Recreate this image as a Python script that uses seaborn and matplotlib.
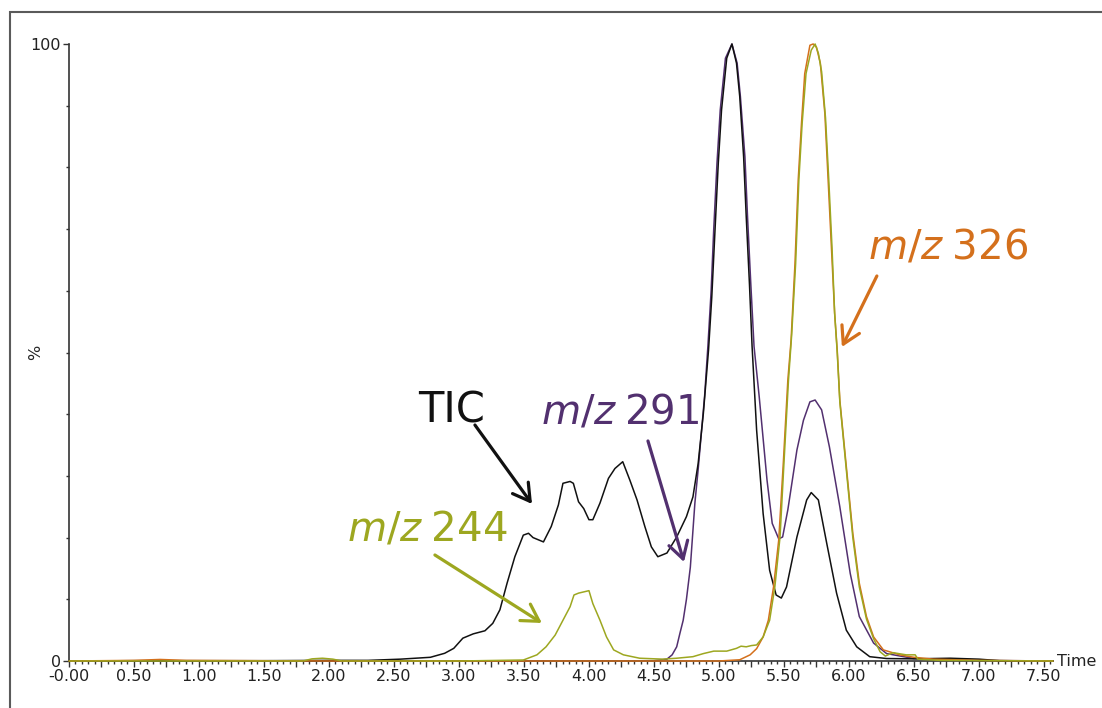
import matplotlib
matplotlib.use("Agg")
import matplotlib.pyplot as plt
from matplotlib.patches import Rectangle
from matplotlib.ticker import MultipleLocator, FuncFormatter
import pandas as pd
import seaborn as sns

# TIC (black)
tic_time = [0.0, 0.5, 1.0, 1.5, 2.0, 2.3, 2.55, 2.78, 2.89, 2.96, 3.03, 3.11, 3.20,
            3.26, 3.315, 3.37, 3.43, 3.495, 3.535, 3.57, 3.65, 3.71, 3.765, 3.80,
            3.855, 3.88, 3.92, 3.96, 4.00, 4.03, 4.085, 4.15, 4.20, 4.26, 4.315,
            4.37, 4.43, 4.48, 4.53, 4.60, 4.675, 4.75, 4.80, 4.84, 4.88, 4.92,
            4.945, 4.97, 4.995, 5.02, 5.06, 5.10, 5.135, 5.16, 5.19, 5.21, 5.235,
            5.255, 5.29, 5.34, 5.39, 5.44, 5.48, 5.52, 5.60, 5.675, 5.71, 5.765,
            5.83, 5.905, 5.98, 6.06, 6.16, 6.29, 6.50, 6.78, 7.00, 7.16, 7.57]
tic_pct = [0.0, 0.05, 0.05, 0.05, 0.1, 0.1, 0.3, 0.6, 1.25, 2.05, 3.7, 4.4, 4.9,
           6.1, 8.3, 12.6, 16.9, 20.4, 20.7, 20.0, 19.3, 21.8, 25.3, 28.8,
           29.1, 28.8, 25.8, 24.7, 22.9, 22.9, 25.6, 29.6, 31.2, 32.3, 29.3,
           26.1, 21.8, 18.5, 16.9, 17.5, 20.1, 23.4, 26.6, 32.0, 40.1, 50.4,
           59.0, 69.9, 80.7, 89.3, 97.7, 100.0, 96.9, 91.5, 81.7, 72.0, 61.0,
           51.0, 37.4, 23.9, 14.7, 10.7, 10.2, 12.0, 20.1, 26.1, 27.3, 26.1,
           19.0, 11.0, 5.0, 2.3, 0.7, 0.4, 0.35, 0.45, 0.3, 0.05, 0.0]

# m/z 291 (purple)
mz291_time = [0.0, 1.0, 2.0, 3.0, 4.0, 4.5, 4.60, 4.64, 4.675, 4.70, 4.725, 4.75,
              4.78, 4.815, 4.84, 4.865, 4.89, 4.915, 4.94, 4.96, 4.985, 5.01,
              5.05, 5.10, 5.14, 5.165, 5.20, 5.22, 5.245, 5.27, 5.31, 5.37, 5.41,
              5.46, 5.49, 5.53, 5.60, 5.65, 5.70, 5.74, 5.79, 5.85, 5.93, 6.01,
              6.08, 6.19, 6.29, 6.50, 7.00, 7.57]
mz291_pct = [0.0, 0.0, 0.0, 0.0, 0.0, 0.05, 0.3, 1.0, 2.3, 4.5, 6.6, 10.0,
             15.2, 25.6, 31.0, 37.0, 43.0, 51.0, 60.0, 70.0, 80.7, 89.3,
             97.7, 100.0, 96.9, 91.5, 81.7, 72.0, 61.2, 51.0, 42.8, 29.3, 22.3,
             19.8, 20.1, 24.5, 34.2, 39.0, 42.0, 42.3, 40.7, 34.7, 25.0, 14.2,
             7.2, 2.9, 1.2, 0.4, 0.1, 0.0]

# m/z 326 (orange)
mz326_time = [0.0, 0.5, 0.7, 0.9, 2.0, 4.0, 5.0, 5.16, 5.24, 5.29, 5.34, 5.38,
              5.42, 5.46, 5.495, 5.53, 5.555, 5.585, 5.61, 5.635, 5.66, 5.70,
              5.725, 5.75, 5.78, 5.815, 5.84, 5.865, 5.89, 5.91, 5.93, 5.98,
              6.03, 6.08, 6.135, 6.19, 6.265, 6.39, 6.50, 6.65, 7.00, 7.57]
mz326_pct = [0.0, 0.1, 0.25, 0.1, 0.0, 0.0, 0.0, 0.2, 1.0, 2.0, 3.9, 6.6,
             12.0, 19.6, 32.0, 45.5, 52.0, 64.4, 78.0, 87.1, 95.2, 99.8,
             100.0, 99.5, 96.9, 88.7, 78.0, 67.2, 56.4, 50.4, 42.3, 31.5,
             20.7, 12.6, 7.2, 3.9, 1.8, 1.0, 0.6, 0.3, 0.1, 0.0]

# m/z 244 (olive green)
mz244_time = [0.0, 1.8, 1.87, 1.95, 2.03, 2.1, 3.0, 3.495, 3.60, 3.67, 3.74, 3.80,
              3.855, 3.885, 3.92, 3.96, 4.00, 4.03, 4.085, 4.135, 4.19, 4.265,
              4.39, 4.57, 4.675, 4.80, 4.88, 4.96, 5.06, 5.135, 5.17, 5.21, 5.25,
              5.29, 5.34, 5.39, 5.43, 5.47, 5.50, 5.535, 5.56, 5.59, 5.615, 5.64,
              5.67, 5.71, 5.74, 5.765, 5.79, 5.82, 5.845, 5.87, 5.89, 5.91, 5.93,
              5.98, 6.03, 6.08, 6.135, 6.19, 6.24, 6.28, 6.34, 6.44, 6.51, 6.53,
              6.70, 7.57]
mz244_pct = [0.0, 0.0, 0.35, 0.45, 0.3, 0.0, 0.0, 0.16, 1.0, 2.3, 4.2, 6.6,
             8.8, 10.7, 11.0, 11.2, 11.4, 9.3, 6.6, 3.9, 1.8, 1.0,
             0.45, 0.3, 0.45, 0.7, 1.2, 1.6, 1.6, 2.05, 2.4, 2.3, 2.5,
             2.6, 3.9, 6.6, 12.0, 20.1, 32.0, 45.5, 53.0, 64.4, 78.0, 87.1,
             95.2, 99.0, 100.0, 98.5, 95.5, 88.0, 78.0, 67.0, 56.4, 50.0, 42.0,
             31.0, 20.0, 12.0, 6.8, 3.6, 1.5, 0.8, 1.35, 1.0, 1.0, 0.3,
             0.1, 0.0]

BLACK = "#111111"
PURPLE = "#52306f"
ORANGE = "#d4701c"
GREEN = "#9da720"

sns.set_style("ticks")
plt.rcParams["font.family"] = ["DejaVu Sans"]
plt.rcParams["mathtext.fontset"] = "dejavusans"

fig = plt.figure(figsize=(11.02, 7.08), dpi=100)
ax = fig.add_axes([69 / 1102, 1 - 661 / 708, 984 / 1102, 617 / 708])

traces = [
    (mz291_time, mz291_pct, PURPLE, 2),
    (tic_time, tic_pct, BLACK, 3),
    (mz326_time, mz326_pct, ORANGE, 4),
    (mz244_time, mz244_pct, GREEN, 5),
]
for t, v, color, z in traces:
    df = pd.DataFrame({"time": t, "pct": v})
    sns.lineplot(data=df, x="time", y="pct", color=color, lw=1.1, ax=ax,
                 estimator=None, sort=False, clip_on=False, zorder=z)

ax.set_xlim(0, 7.57)
ax.set_ylim(0, 100)
ax.set_xlabel("")
ax.set_ylabel("%", fontsize=11.5)
ax.yaxis.set_label_coords(-0.026, 0.5)

for side in ("top", "right"):
    ax.spines[side].set_visible(False)
for side in ("left", "bottom"):
    ax.spines[side].set_color("#333333")
    ax.spines[side].set_linewidth(1.2)


def xfmt(val, pos):
    if abs(val / 0.5 - round(val / 0.5)) > 1e-6:
        return ""
    if abs(val) < 1e-9:
        return "-0.00"
    return f"{val:.2f}"


ax.xaxis.set_major_locator(MultipleLocator(0.25))
ax.xaxis.set_major_formatter(FuncFormatter(xfmt))
ax.xaxis.set_minor_locator(MultipleLocator(0.05))
ax.set_yticks([0, 100])
ax.set_yticklabels(["0", "100"])
ax.yaxis.set_minor_locator(MultipleLocator(10))
ax.tick_params(axis="both", which="major", length=4, width=1, color="#333333",
               labelsize=11.5, labelcolor="#222222", pad=2)
ax.tick_params(axis="both", which="minor", length=2, width=1, color="#333333")

ax.text(1.004, 0, "Time", transform=ax.transAxes, ha="left", va="center",
        fontsize=11.5, color="#222222")

labels = [
    ("TIC", 2.685, 38.7, BLACK, (3.562, 25.45), (3.123, 38.25)),
    (r"$\mathit{m/z}$" + "\u2005291", 3.631, 38.57, PURPLE, (4.731, 16.05), (4.454, 35.66)),
    (r"$\mathit{m/z}$" + "\u2005326", 6.146, 65.3, ORANGE, (5.946, 50.9), (6.215, 62.4)),
    (r"$\mathit{m/z}$" + "\u2005244", 2.138, 19.6, GREEN, (3.638, 6.16), (2.815, 17.18)),
]
for text, tx, ty, color, tip, start in labels:
    size = 30 if text == "TIC" else 29
    ax.text(tx, ty, text, fontsize=size, color=color, ha="left", va="baseline")
    ax.annotate("", xy=tip, xytext=start, annotation_clip=False,
                arrowprops=dict(arrowstyle="->,head_length=0.6,head_width=0.35",
                                color=color, lw=2.3, mutation_scale=20,
                                shrinkA=0, shrinkB=0))

fig.add_artist(Rectangle((10 / 1102, -0.1), 1.5, 1 - 12 / 708 + 0.1,
                         transform=fig.transFigure, fill=False,
                         ec="#5a5a5a", lw=1.5))

fig.savefig("out.png", dpi=100)
